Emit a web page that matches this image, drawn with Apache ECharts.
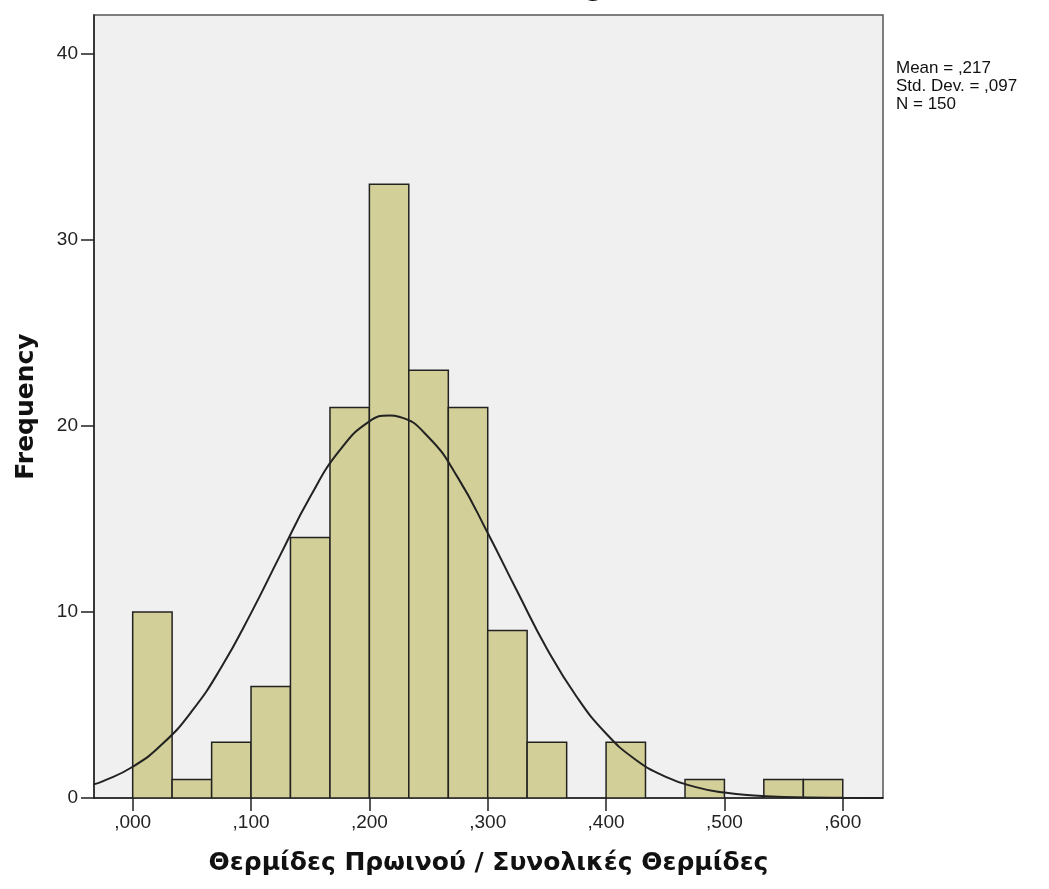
<!DOCTYPE html>
<html>
<head>
<meta charset="utf-8">
<title>Histogram</title>
<script src="https://cdn.jsdelivr.net/npm/echarts@6/dist/echarts.min.js"></script>
<style>
  html, body { margin: 0; padding: 0; background: #fff; }
  #chart { width: 1049px; height: 889px; }
</style>
</head>
<body>
<div id="chart"></div>
<script>
// bin edges (lower, upper) and counts
var binLow = [0.0000, 0.0333, 0.0667, 0.1000, 0.1333, 0.1667, 0.2000, 0.2333, 0.2667,
              0.3000, 0.3333, 0.3667, 0.4000, 0.4333, 0.4667, 0.5000, 0.5333, 0.5667];
var binHigh = [0.0333, 0.0667, 0.1000, 0.1333, 0.1667, 0.2000, 0.2333, 0.2667, 0.3000,
               0.3333, 0.3667, 0.4000, 0.4333, 0.4667, 0.5000, 0.5333, 0.5667, 0.6000];
var counts = [10, 1, 3, 6, 14, 21, 33, 23, 21, 9, 3, 0, 3, 0, 1, 0, 1, 1];

// normal curve
var curveX = [-0.035, -0.025, 0, 0.025, 0.05, 0.075, 0.1, 0.125, 0.15, 0.175, 0.2, 0.217,
              0.225, 0.25, 0.275, 0.3, 0.325, 0.35, 0.375, 0.4, 0.425, 0.45, 0.475, 0.5,
              0.525, 0.55, 0.6, 0.634];
var curveY = [0.70, 0.91, 1.68, 2.90, 4.67, 7.04, 9.94, 13.1, 16.2, 18.7, 20.25, 20.56,
              20.5, 19.4, 17.2, 14.25, 11.1, 8.03, 5.46, 3.47, 2.06, 1.15, 0.60, 0.29,
              0.13, 0.06, 0.01, 0.0];

var xTicks = [0, 0.1, 0.2, 0.3, 0.4, 0.5, 0.6];
var yTicks = [0, 10, 20, 30, 40];
var statsLines = ['Mean = ,217', 'Std. Dev. = ,097', 'N = 150'];

var barData = [];
for (var i = 0; i < counts.length; i++) {
  barData.push([binLow[i], binHigh[i], counts[i]]);
}
var lineData = [];
for (var j = 0; j < curveX.length; j++) {
  lineData.push([curveX[j], curveY[j]]);
}

var myChart = echarts.init(document.getElementById('chart'));

var titleFont = { fontFamily: 'DejaVu Sans', fontSize: 25, fontWeight: 'bold', color: '#111' };

var option = {
  animation: false,
  title: {
    text: 'Histogram',
    left: 507,
    top: -28,
    textStyle: titleFont
  },
  grid: {
    left: 94, right: 166, top: 15, bottom: 91,
    show: true,
    backgroundColor: '#F0F0F0',
    borderColor: '#555',
    borderWidth: 1.5
  },
  xAxis: {
    type: 'value',
    min: -0.0327,
    max: 0.634,
    name: 'Θερμίδες Πρωινού / Συνολικές Θερμίδες',
    nameLocation: 'middle',
    nameGap: 53,
    nameTextStyle: titleFont,
    axisLine: { onZero: false, lineStyle: { color: '#222', width: 1.5 } },
    axisTick: { show: true, length: 13, customValues: xTicks, lineStyle: { color: '#222', width: 1.5 } },
    axisLabel: {
      customValues: xTicks,
      margin: 15,
      fontFamily: 'Liberation Sans',
      fontSize: 19,
      color: '#222',
      formatter: function (v) { return v.toFixed(3).replace('0.', ','); }
    },
    splitLine: { show: false }
  },
  yAxis: {
    type: 'value',
    min: 0,
    max: 42.1,
    name: 'Frequency',
    nameLocation: 'middle',
    nameGap: 55,
    nameTextStyle: titleFont,
    axisLine: { show: true, onZero: false, lineStyle: { color: '#222', width: 1.5 } },
    axisTick: { show: true, length: 13, customValues: yTicks, lineStyle: { color: '#222', width: 1.5 } },
    axisLabel: {
      customValues: yTicks,
      margin: 16,
      fontFamily: 'Liberation Sans',
      fontSize: 19,
      color: '#222'
    },
    splitLine: { show: false }
  },
  graphic: [{
    type: 'text',
    left: 896,
    top: 59,
    style: {
      text: statsLines.join('\n'),
      font: '17px "Liberation Sans"',
      lineHeight: 18,
      fill: '#111'
    }
  }],
  series: [{
    type: 'custom',
    clip: true,
    data: barData,
    encode: { x: [0, 1], y: 2 },
    renderItem: function (params, api) {
      var c = api.value(2);
      if (!c) return null;
      var p0 = api.coord([api.value(0), c]);
      var p1 = api.coord([api.value(1), 0]);
      return {
        type: 'rect',
        shape: { x: p0[0], y: p0[1], width: p1[0] - p0[0], height: p1[1] - p0[1] },
        style: { fill: '#D3CF98', stroke: '#222', lineWidth: 1.5 }
      };
    }
  }, {
    type: 'line',
    data: lineData,
    smooth: true,
    showSymbol: false,
    clip: true,
    lineStyle: { color: '#222', width: 2 },
    z: 5
  }]
};

myChart.setOption(option);
</script>
</body>
</html>
